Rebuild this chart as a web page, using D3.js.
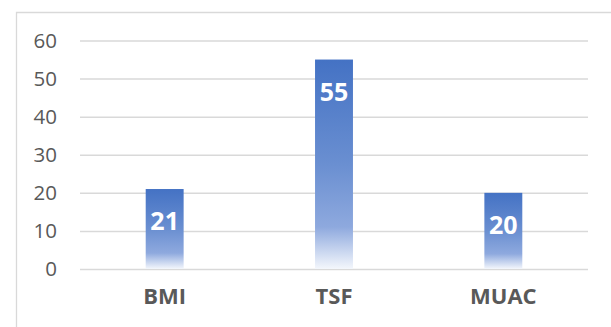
<!DOCTYPE html>
<html>
<head>
<meta charset="utf-8">
<script src="https://cdn.jsdelivr.net/npm/d3@7"></script>
<style>
  body { margin: 0; background: #fff; }
  svg { display: block; font-family: "Open Sans", sans-serif; }
</style>
</head>
<body>
<div id="chart"></div>
<script>
// chart data
var categories = ["BMI", "TSF", "MUAC"];
var values = [21, 55, 20];
var yTicks = [0, 10, 20, 30, 40, 50, 60];

var W = 611, H = 327;
var margin = {top: 40.5, right: 23, bottom: 58, left: 80},
    width = W - margin.left - margin.right,
    height = H - margin.top - margin.bottom;

var svg = d3.select("#chart").append("svg")
    .attr("width", W)
    .attr("height", H);

// gradient fill, per bar
var defs = svg.append("defs");
var grad = defs.append("linearGradient")
    .attr("id", "barFill")
    .attr("x1", 0).attr("y1", 0).attr("x2", 0).attr("y2", 1);
grad.append("stop").attr("offset", "0%").attr("stop-color", "#4472C4");
grad.append("stop").attr("offset", "50%").attr("stop-color", "#6a8fd1");
grad.append("stop").attr("offset", "80%").attr("stop-color", "#8ea9de");
grad.append("stop").attr("offset", "100%").attr("stop-color", "#f4f7fc");

// chart area border (top + left visible)
svg.append("path")
    .attr("d", "M16.5," + H + "V12.5H" + W)
    .attr("fill", "none")
    .attr("stroke", "#d9d9d9")
    .attr("stroke-width", 1.3);

var g = svg.append("g")
    .attr("transform", "translate(" + margin.left + "," + margin.top + ")");

var x = d3.scaleBand().domain(categories).range([0, width]).paddingInner(0.776).paddingOuter(0.388);
var y = d3.scaleLinear().domain([0, 60]).range([height, 0]);

// gridlines
g.append("g")
    .attr("class", "grid")
    .call(d3.axisLeft(y).tickValues(yTicks).tickSize(-width).tickFormat(""))
    .call(function(s) {
      s.select(".domain").remove();
      s.selectAll("line").attr("stroke", "#d9d9d9").attr("stroke-width", 1.5);
    });

// y labels
g.append("g")
    .call(d3.axisLeft(y).tickValues(yTicks).tickSize(0).tickPadding(23))
    .call(function(s) {
      s.select(".domain").remove();
      s.selectAll("text")
        .attr("fill", "#595959")
        .style("font-size", "20.5px")
        .style("font-family", "'Open Sans', sans-serif");
    });

// x labels
g.append("g")
    .attr("transform", "translate(0," + height + ")")
    .call(d3.axisBottom(x).tickSize(0).tickPadding(19))
    .call(function(s) {
      s.select(".domain").remove();
      s.selectAll("text")
        .attr("fill", "#595959")
        .style("font-size", "22px")
        .style("font-weight", "bold")
        .style("font-family", "'Open Sans', sans-serif");
    });

// bars
g.selectAll(".bar")
  .data(values)
  .enter().append("rect")
    .attr("class", "bar")
    .attr("x", function(d, i) { return x(categories[i]); })
    .attr("width", x.bandwidth())
    .attr("y", function(d) { return y(d); })
    .attr("height", function(d) { return height - y(d); })
    .attr("fill", "url(#barFill)");

// value labels
g.selectAll(".lbl")
  .data(values)
  .enter().append("text")
    .attr("class", "lbl")
    .attr("x", function(d, i) { return x(categories[i]) + x.bandwidth() / 2; })
    .attr("y", function(d) { return y(d) + 41; })
    .attr("text-anchor", "middle")
    .attr("fill", "#fff")
    .style("font-size", "25px")
    .style("font-weight", "bold")
    .text(function(d) { return d; });
</script>
</body>
</html>
